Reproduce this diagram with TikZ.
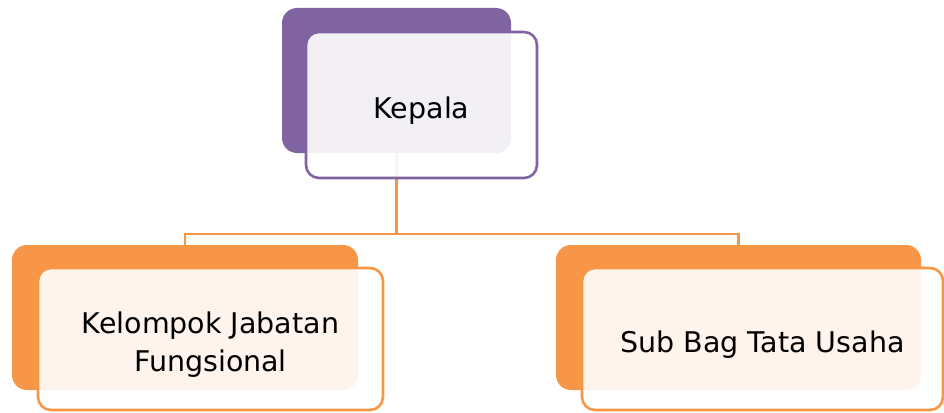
\documentclass[tikz,border=0pt]{standalone}
\usepackage{fontspec}
\setmainfont{DejaVu Sans}
\definecolor{kpurple}{HTML}{8064A2}
\definecolor{korange}{HTML}{F79646}
\begin{document}
\begin{tikzpicture}[x=1pt,y=-1pt,
  backbox/.style={rectangle,rounded corners=15pt,draw=none,inner sep=0pt},
  frontbox/.style={rectangle,rounded corners=13pt,line width=2.6pt,fill=white,fill opacity=0.9,inner sep=0pt},
  label text/.style={align=center,inner sep=0pt,font=\fontsize{28.5}{38}\selectfont},
  conn/.style={draw=korange,line width=2.6pt}]
\useasboundingbox (0,0) rectangle (944,412);
% back boxes
\node[backbox,fill=kpurple,minimum width=229pt,minimum height=145pt] (kback) at (396.5,80.5) {};
\node[backbox,fill=korange,minimum width=346pt,minimum height=145pt] (lback) at (185,317.5) {};
\node[backbox,fill=korange,minimum width=365pt,minimum height=145pt] (rback) at (738.5,317.5) {};
% connectors
\coordinate (j) at (396.5,234);
\draw[conn] (kback.south) -- (j);
\draw[conn] (lback.north) |- (j) -| (rback.north);
% front boxes
\node[frontbox,draw=kpurple,minimum width=231pt,minimum height=146pt] (kfront) at (421.5,105) {};
\node[frontbox,draw=korange,minimum width=345pt,minimum height=142pt] (lfront) at (210.5,339) {};
\node[frontbox,draw=korange,minimum width=361pt,minimum height=142pt] (rfront) at (762.5,339) {};
% texts
\node[label text] (ktext) at ([yshift=-6pt]kfront.center) {Kepala};
\node[label text] (ltext) at ([yshift=-6pt]lfront.center) {Kelompok Jabatan\\Fungsional};
\node[label text] (rtext) at ([yshift=-6pt]rfront.center) {Sub Bag Tata Usaha};
\end{tikzpicture}
\end{document}
